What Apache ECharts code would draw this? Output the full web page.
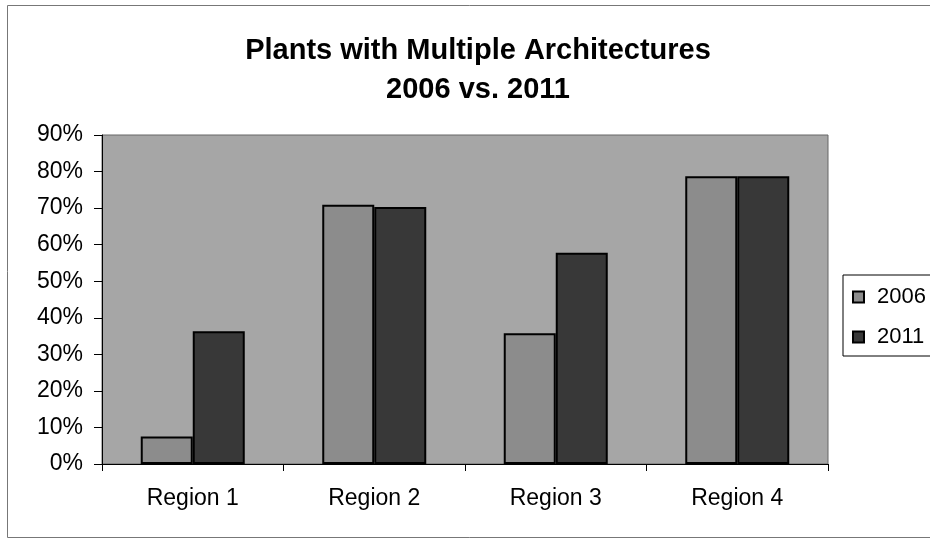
<!DOCTYPE html>
<html>
<head>
<meta charset="utf-8">
<script src="https://cdn.jsdelivr.net/npm/echarts@6/dist/echarts.min.js"></script>
<style>
  html, body { margin: 0; padding: 0; background: #fff; }
  #chart { width: 930px; height: 544px; }
</style>
</head>
<body>
<div id="chart"></div>
<script>
const categories = ["Region 1", "Region 2", "Region 3", "Region 4"]
const values2006 = [0.075, 0.709, 0.358, 0.787]
const values2011 = [0.363, 0.703, 0.578, 0.787]
const yTicks = [0, 0.1, 0.2, 0.3, 0.4, 0.5, 0.6, 0.7, 0.8, 0.9]

const myChart = echarts.init(document.getElementById("chart"))

const barStyle = (color) => ({
  color: color,
  borderColor: "#000",
  borderWidth: 2,
})

const option = {
  animation: false,
  backgroundColor: "#fff",
  textStyle: { fontFamily: "Liberation Sans, Arial, sans-serif", color: "#000" },
  graphic: [
    {
      type: "rect",
      shape: { x: 7.5, y: 5.5, width: 940, height: 532 },
      style: { fill: "none", stroke: "#777", lineWidth: 1 },
      silent: true,
    },
  ],
  title: {
    text: "Plants with Multiple Architectures\n2006 vs. 2011",
    left: 473,
    top: 26,
    textAlign: "center",
    textStyle: {
      fontSize: 29,
      fontWeight: "bold",
      lineHeight: 39,
      color: "#000",
      fontFamily: "Liberation Sans, Arial, sans-serif",
    },
  },
  legend: {
    orient: "vertical",
    left: 843,
    top: 275,
    data: ["2006", "2011"],
    icon: "rect",
    itemWidth: 11,
    itemHeight: 11,
    itemGap: 18,
    padding: [11, 40, 8, 9],
    borderColor: "#000",
    borderWidth: 1,
    textStyle: { fontSize: 22, color: "#000", padding: [0, 0, 0, 8] },
  },
  grid: {
    left: 102,
    right: 102,
    top: 135,
    bottom: 80,
    show: true,
    backgroundColor: "#a6a6a6",
    borderColor: "#666",
    borderWidth: 1,
  },
  xAxis: {
    type: "category",
    data: categories,
    axisLine: { lineStyle: { color: "#000", width: 1 } },
    axisTick: { show: true, length: 7, lineStyle: { color: "#000" } },
    axisLabel: { fontSize: 23, color: "#000", margin: 23 },
  },
  yAxis: {
    type: "value",
    min: 0,
    max: 0.9,
    interval: 0.1,
    axisLine: { show: true, lineStyle: { color: "#000", width: 1 } },
    axisTick: { show: true, length: 8, lineStyle: { color: "#000" } },
    splitLine: { show: false },
    axisLabel: {
      fontSize: 23,
      color: "#000",
      margin: 19,
      formatter: (v) => {
        const t = yTicks.find((x) => Math.abs(x - v) < 1e-6)
        return Math.round((t !== undefined ? t : v) * 100) + "%"
      },
    },
  },
  series: [
    {
      name: "2006",
      type: "bar",
      data: values2006,
      barWidth: 52,
      barGap: "0%",
      itemStyle: barStyle("#8c8c8c"),
    },
    {
      name: "2011",
      type: "bar",
      data: values2011,
      barWidth: 52,
      barGap: "0%",
      itemStyle: barStyle("#383838"),
    },
  ],
}

option && myChart.setOption(option)
</script>
</body>
</html>
